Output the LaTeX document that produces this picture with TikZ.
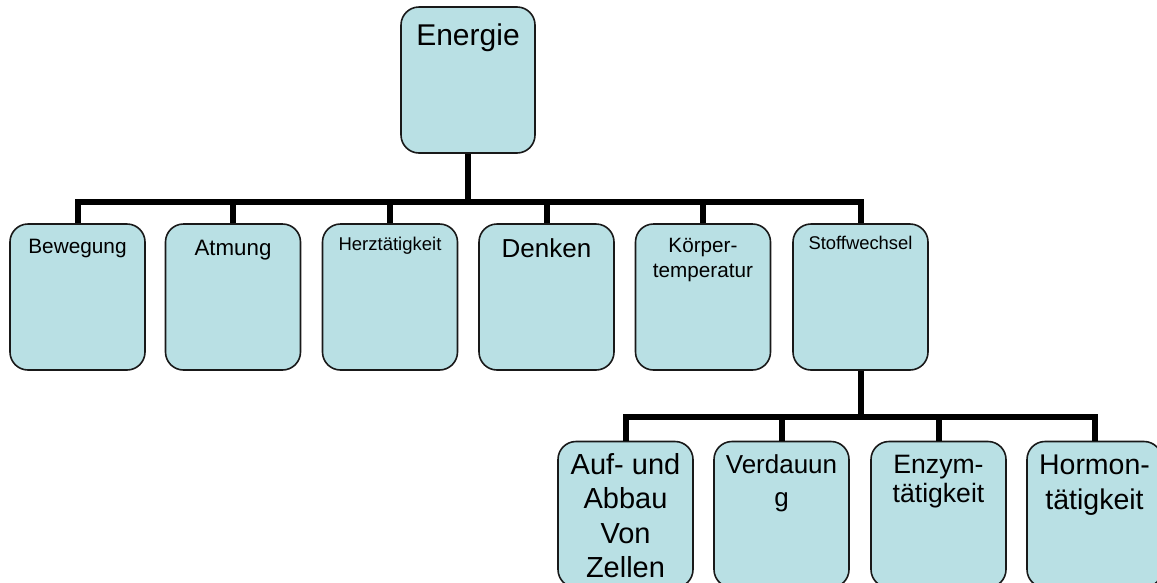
\documentclass[tikz,border=0pt]{standalone}
\usepackage{fontspec}
\setmainfont{Liberation Sans}
\usetikzlibrary{calc}
\definecolor{boxfill}{RGB}{185,224,228}
\newcommand\fs[2]{\fontsize{#1}{#2}\selectfont}

\begin{document}
\begin{tikzpicture}[x=1pt, y=-1pt,
  box/.style={draw=black!90, line width=1.6pt, fill=boxfill, rounded corners=18pt,
    minimum width=135pt, minimum height=146pt, inner sep=0pt},
  lbl/.style={anchor=base, align=center, inner sep=0pt},
  conn/.style={line width=6pt}]
\useasboundingbox (0,0) rectangle (1157,582);
%
% top
\node[box, minimum width=134pt] (energie) at (468,80) {};
\node[lbl, font=\fs{30}{34}] (tenergie) at (468,45) {Energie};
%
% second row (label at baseline of its last line)
\node[box] (bewegung) at (77.5,297) {};
\node[lbl, font=\fs{20.8}{25}] (tbewegung) at (77.5,253) {Bewegung};
\node[box] (atmung) at (233,297) {};
\node[lbl, font=\fs{22.3}{26}] (tatmung) at (233,255) {Atmung};
\node[box] (herz) at (390,297) {};
\node[lbl, font=\fs{18.5}{22}] (therz) at (390,250) {Herztätigkeit};
\node[box] (denken) at (546.5,297) {};
\node[lbl, font=\fs{26}{30}] (tdenken) at (546.5,257) {Denken};
\node[box] (koerper) at (703,297) {};
\node[lbl, font=\fs{20.7}{25}] (tkoerper) at (703,277) {Körper-\\temperatur};
\node[box] (stoff) at (860.5,297) {};
\node[lbl, font=\fs{18.4}{22}] (tstoff) at (860.5,249) {Stoffwechsel};
%
% third row
\node[box] (zellen) at (625.5,514.5) {};
\node[lbl, font=\fs{29}{34.5}] (tzellen) at (625.5,577.5) {Auf- und\\Abbau\\Von\\Zellen};
\node[box] (verdauung) at (781.5,514.5) {};
\node[lbl, font=\fs{26}{33}] (tverdauung) at (781.5,506) {Verdauun\\g};
\node[box] (enzym) at (938.5,514.5) {};
\node[lbl, font=\fs{26.6}{29}] (tenzym) at (938.5,502) {Enzym-\\tätigkeit};
\node[box] (hormon) at (1094.5,514.5) {};
\node[lbl, font=\fs{28.5}{35}] (thormon) at (1094.5,509) {Hormon-\\tätigkeit};
%
% connectors
\coordinate (bus) at (468,201.5);
\draw[conn] (energie.south) -- (bus);
\foreach \n in {bewegung,atmung,herz,denken,koerper,stoff}
  \draw[conn] (bus) -| (\n.north);
\coordinate (bus2) at (860.5,417);
\draw[conn] (stoff.south) -- (bus2);
\foreach \n in {zellen,verdauung,enzym,hormon}
  \draw[conn] (bus2) -| (\n.north);
%
\end{tikzpicture}
\end{document}
